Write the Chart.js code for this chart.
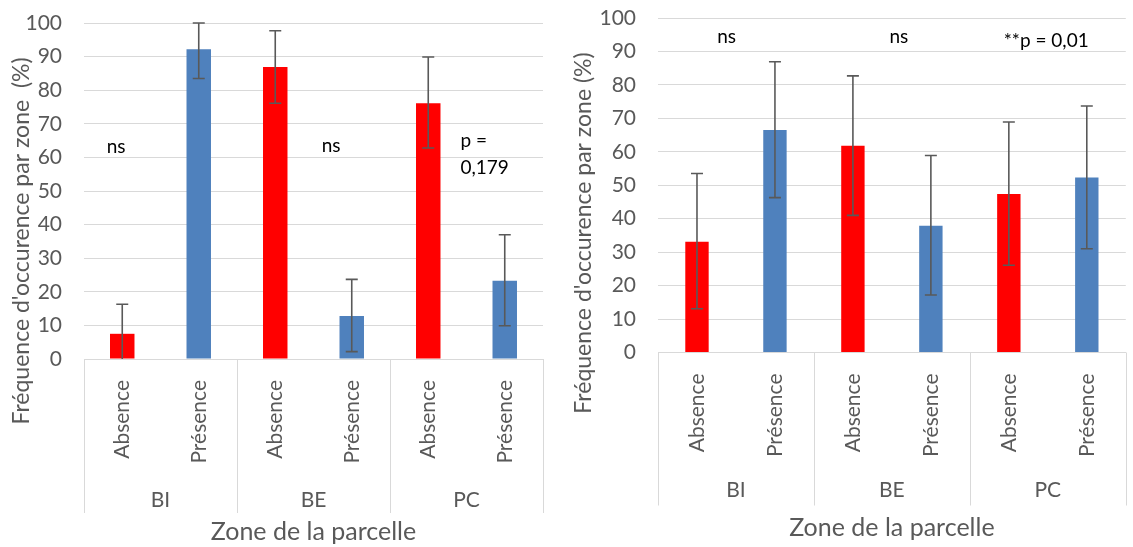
<!DOCTYPE html>
<html>
<head>
<meta charset="utf-8">
<script src="https://cdn.jsdelivr.net/npm/chart.js@4.4.0/dist/chart.umd.min.js"></script>
<style>
    html, body { margin: 0; padding: 0; background: #fff; }
    body { width: 1133px; height: 547px; position: relative; overflow: hidden; }
    .box { position: absolute; top: 0; height: 547px; }
    #left { left: 0; width: 565px; }
    #right { left: 565px; width: 568px; }
</style>
</head>
<body>
<div class="box" id="left"><canvas id="chartLeft"></canvas></div>
<div class="box" id="right"><canvas id="chartRight"></canvas></div>
<script>
// --------- Données ---------
const CATEGORIES = ["Absence", "Présence", "Absence", "Présence", "Absence", "Présence"];
const ZONES = ["BI", "BE", "PC"];
const Y_MIN = 0;
const Y_MAX = 100;
const Y_STEP = 10;

// Graphique de gauche
const LEFT_VALUES = [7.5, 92.2, 86.9, 12.8, 76.1, 23.3];
const LEFT_ERR_HIGH = [16.3, 100, 97.7, 23.7, 89.9, 37.0];
const LEFT_ERR_LOW = [0, 83.5, 76.1, 2.2, 62.8, 9.9];
const LEFT_NOTES = [
    { text: "ns", at: -0.08, value: 63, align: "center" },
    { text: "ns", at: 2.73, value: 63.5, align: "center" },
    { text: "p =", at: 4.42, value: 64.9, align: "left" },
    { text: "0,179", at: 4.42, value: 57.0, align: "left" },
];

// Graphique de droite
const RIGHT_VALUES = [33.1, 66.5, 61.8, 37.9, 47.4, 52.3];
const RIGHT_ERR_HIGH = [53.5, 86.9, 82.7, 58.9, 68.9, 73.7];
const RIGHT_ERR_LOW = [13.1, 46.3, 41.0, 17.2, 26.1, 31.0];
const RIGHT_NOTES = [
    { text: "ns", at: 0.38, value: 94.3, align: "center" },
    { text: "ns", at: 2.59, value: 94.3, align: "center" },
    { text: "**p = 0,01", at: 4.48, value: 93.1, align: "center" },
];

// Couleurs style Excel
const RED = "#FF0000";
const BLUE = "#4F81BD";
const TEXT = "#595959";
const GRID = "#D9D9D9";
const FONT = "Lato, 'Open Sans', sans-serif";

// --------- Plugin: barres d'erreur, zones, annotations, titre Y ---------
const excelDecor = {
    id: "excelDecor",
    afterDatasetsDraw(chart, args, o) {
        const { ctx, chartArea: a, scales: { x, y } } = chart;
        ctx.save();
        ctx.beginPath();
        ctx.rect(a.left, a.top - 2, a.right - a.left, a.bottom - a.top + 2);
        ctx.clip();
        ctx.strokeStyle = "#595959";
        ctx.lineWidth = 1.6;
        o.low.forEach((lo, i) => {
            const px = x.getPixelForValue(i);
            const yl = y.getPixelForValue(lo);
            const yh = y.getPixelForValue(o.high[i]);
            ctx.beginPath();
            ctx.moveTo(px, yl);
            ctx.lineTo(px, yh);
            ctx.moveTo(px - 6, yh);
            ctx.lineTo(px + 6, yh);
            if (lo > Y_MIN) {
                ctx.moveTo(px - 6, yl);
                ctx.lineTo(px + 6, yl);
            }
            ctx.stroke();
        });
        ctx.restore();
    },
    afterDraw(chart, args, o) {
        const { ctx, chartArea: a, scales: { x, y } } = chart;
        const step = x.getPixelForValue(1) - x.getPixelForValue(0);
        ctx.save();

        // séparateurs de zones sous l'axe
        ctx.strokeStyle = GRID;
        ctx.lineWidth = 1;
        const seps = [a.left];
        for (let g = 1; g < ZONES.length; g++) {
            seps.push(x.getPixelForValue(2 * g) - step / 2);
        }
        seps.push(a.right);
        seps.forEach((sx) => {
            ctx.beginPath();
            ctx.moveTo(Math.round(sx) + 0.5, a.bottom);
            ctx.lineTo(Math.round(sx) + 0.5, a.bottom + o.sepLen);
            ctx.stroke();
        });

        // noms des zones
        ctx.fillStyle = TEXT;
        ctx.font = "21px " + FONT;
        ctx.textAlign = "center";
        ctx.textBaseline = "middle";
        ZONES.forEach((z, g) => {
            const cx = (x.getPixelForValue(2 * g) + x.getPixelForValue(2 * g + 1)) / 2;
            ctx.fillText(z, cx, a.bottom + o.zoneY);
        });

        // annotations (ns, p)
        ctx.fillStyle = "#000";
        ctx.font = "19px " + FONT;
        o.notes.forEach((n) => {
            const px = x.getPixelForValue(0) + n.at * step;
            ctx.textAlign = n.align;
            ctx.fillText(n.text, px, y.getPixelForValue(n.value));
        });

        // titre vertical
        ctx.fillStyle = TEXT;
        ctx.font = "23px " + FONT;
        ctx.translate(o.titleX, o.titleY);
        ctx.rotate(-Math.PI / 2);
        ctx.textAlign = "center";
        ctx.fillText(o.yTitle, 0, 0);
        ctx.restore();
    },
};

function buildChart(id, values, low, high, notes, lay) {
    const ctx = document.getElementById(id).getContext("2d");
    return new Chart(ctx, {
        type: "bar",
        data: {
            labels: CATEGORIES,
            datasets: [
                {
                    data: values,
                    backgroundColor: CATEGORIES.map((c, i) => (i % 2 === 0 ? RED : BLUE)),
                    borderWidth: 0,
                    barPercentage: 1,
                    categoryPercentage: lay.catPct,
                },
            ],
        },
        options: {
            responsive: true,
            maintainAspectRatio: false,
            animation: false,
            layout: { padding: { top: lay.top, right: lay.right, left: 0, bottom: 0 } },
            plugins: {
                legend: { display: false },
                tooltip: { enabled: false },
                excelDecor: {
                    low,
                    high,
                    notes,
                    yTitle: lay.yTitle,
                    titleX: lay.titleX,
                    titleY: lay.titleY,
                    sepLen: lay.sepLen,
                    zoneY: lay.zoneY,
                },
            },
            scales: {
                x: {
                    grid: { display: false, drawTicks: false },
                    border: { display: true, color: GRID, width: 1 },
                    ticks: {
                        color: TEXT,
                        font: { family: FONT, size: 21 },
                        minRotation: 90,
                        maxRotation: 90,
                        padding: lay.tickPad,
                        autoSkip: false,
                    },
                    title: {
                        display: true,
                        text: "Zone de la parcelle",
                        color: TEXT,
                        font: { family: FONT, size: 25 },
                        padding: { top: 0, bottom: lay.titlePad },
                    },
                    afterFit: (s) => {
                        s.height = lay.xHeight;
                    },
                },
                y: {
                    min: Y_MIN,
                    max: Y_MAX,
                    // marques invisibles pour écarter les libellés sans gonfler le haut
                    grid: { color: GRID, lineWidth: 1, drawTicks: true, tickLength: 19, tickColor: "rgba(0,0,0,0)" },
                    border: { display: false },
                    ticks: {
                        stepSize: Y_STEP,
                        color: TEXT,
                        font: { family: FONT, size: 21 },
                        padding: 3,
                    },
                    afterFit: (s) => {
                        s.width = lay.yWidth;
                    },
                },
            },
        },
        plugins: [excelDecor],
    });
}

buildChart("chartLeft", LEFT_VALUES, LEFT_ERR_LOW, LEFT_ERR_HIGH, LEFT_NOTES, {
    catPct: 0.32,
    top: 23,
    right: 22,
    yWidth: 84,
    xHeight: 188,
    tickPad: 21,
    titlePad: 0,
    sepLen: 154,
    zoneY: 141,
    yTitle: "Fréquence d'occurence par zone  (%)",
    titleX: 22,
    titleY: 241,
});

buildChart("chartRight", RIGHT_VALUES, RIGHT_ERR_LOW, RIGHT_ERR_HIGH, RIGHT_NOTES, {
    catPct: 0.30,
    top: 18,
    right: 0,
    yWidth: 93,
    xHeight: 194.5,
    tickPad: 21,
    titlePad: 4,
    sepLen: 153,
    zoneY: 138,
    yTitle: "Fréquence d'occurence par zone (%)",
    titleX: 19,
    titleY: 233,
});
</script>
</body>
</html>
